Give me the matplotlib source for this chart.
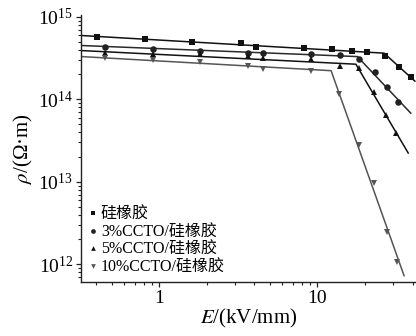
import matplotlib
matplotlib.use("Agg")
import matplotlib.pyplot as plt
from matplotlib.lines import Line2D
from matplotlib.ticker import LogLocator, LogFormatterMathtext, NullFormatter, FuncFormatter

plt.rcParams['font.family'] = ['Liberation Serif', 'Noto Sans CJK SC']
plt.rcParams['mathtext.fontset'] = 'stix'

# Measured resistivity (Ω·m) versus applied field E (kV/mm)
labels = ['硅橡胶', '3%CCTO/硅橡胶', '5%CCTO/硅橡胶', '10%CCTO/硅橡胶']

E_sr = [0.406, 0.817, 1.62, 3.28, 4.07, 8.17, 12.4, 16.5, 20.7, 26.8, 32.8, 38.8]
rho_sr = [5.66e14, 5.36e14, 5.01e14, 4.79e14, 4.35e14, 4.16e14, 4.05e14,
          3.86e14, 3.79e14, 3.38e14, 2.44e14, 1.85e14]

E_3 = [0.451, 0.913, 1.81, 3.64, 4.53, 9.12, 13.8, 18.4, 23.2, 27.7, 32.3]
rho_3 = [4.35e14, 4.08e14, 3.89e14, 3.61e14, 3.61e14, 3.55e14, 3.45e14,
         3.08e14, 2.12e14, 1.40e14, 9.33e13]

E_5 = [0.451, 0.913, 1.81, 3.64, 4.53, 9.12, 13.8, 18.2, 22.8, 27.0, 31.6]
rho_5 = [3.65e14, 3.55e14, 3.55e14, 3.36e14, 3.20e14, 3.08e14, 2.56e14,
         2.38e14, 1.23e14, 6.43e13, 3.92e13]

E_10 = [0.451, 0.913, 1.81, 3.64, 4.53, 9.12, 13.65, 18.2, 22.8, 27.4, 32.0]
rho_10 = [3.15e14, 3.00e14, 2.81e14, 2.54e14, 2.33e14, 2.22e14, 1.17e14,
          2.77e13, 9.66e12, 2.44e12, 1.08e12]

# Two-segment fitted trend lines (start, knee, end)
fitE_sr = [0.323, 26.4, 41.3]
fitrho_sr = [5.92e14, 3.62e14, 1.66e14]
fitE_3 = [0.323, 17.9, 38.9]
fitrho_3 = [4.48e14, 3.29e14, 6.79e13]
fitE_5 = [0.323, 17.5, 37.5]
fitrho_5 = [3.89e14, 2.66e14, 2.23e13]
fitE_10 = [0.323, 12.2, 35.3]
fitrho_10 = [3.29e14, 2.22e14, 7.27e11]

series = [
    (E_sr, rho_sr, fitE_sr, fitrho_sr, 's', '#111111', '#111111', 4.4),
    (E_3, rho_3, fitE_3, fitrho_3, 'o', '#222222', '#2a2a2a', 4.7),
    (E_5, rho_5, fitE_5, fitrho_5, '^', '#111111', '#111111', 5.0),
    (E_10, rho_10, fitE_10, fitrho_10, 'v', '#555555', '#555555', 5.0),
]

fig = plt.figure(figsize=(4.16, 3.36), dpi=100)
ax = fig.add_axes([81 / 416, 1 - 282 / 336, 1 - 81 / 416, (282 - 15) / 336])

handles = []
for (E, rho, fE, frho, mk, mcol, lcol, ms), lab in zip(series, labels):
    ax.plot(fE, frho, '-', color=lcol, lw=1.1, zorder=2)
    ax.plot(E, rho, linestyle='none', marker=mk, ms=ms, color=mcol,
            markeredgewidth=0, zorder=3)
    handles.append(Line2D([], [], linestyle='none', marker=mk, ms=3.4,
                          color=mcol, markeredgewidth=0, label=lab))

ax.set_xscale('log')
ax.set_yscale('log')
ax.set_xlim(0.32, 42)
ax.set_ylim(6.1e11, 1.05e15)

ax.yaxis.set_major_locator(LogLocator(base=10, numticks=10))
ax.yaxis.set_minor_locator(LogLocator(base=10, subs=range(2, 10), numticks=20))
ax.yaxis.set_major_formatter(LogFormatterMathtext())
ax.yaxis.set_minor_formatter(NullFormatter())
ax.xaxis.set_major_locator(LogLocator(base=10, numticks=10))
ax.xaxis.set_minor_locator(LogLocator(base=10, subs=range(2, 10), numticks=20))
ax.xaxis.set_major_formatter(FuncFormatter(lambda v, p: f'{v:g}'))
ax.xaxis.set_minor_formatter(NullFormatter())

for s in ('top', 'right'):
    ax.spines[s].set_visible(False)
for s in ('left', 'bottom'):
    ax.spines[s].set_linewidth(1.0)
    ax.spines[s].set_color('#222222')

ax.tick_params(which='major', direction='out', length=3.6, width=0.9,
               labelsize=14, pad=2, colors='#222222', labelcolor='black')
ax.tick_params(which='minor', direction='out', length=2.0, width=0.8,
               colors='#222222')

ax.set_xlabel(r'$E$/(kV/mm)', fontsize=15, labelpad=0)
ax.set_ylabel(r'$\rho$/(Ω·m)', fontsize=15, labelpad=2)

leg = ax.legend(handles=handles, loc='lower left', bbox_to_anchor=(-0.012, -0.018),
                frameon=False, fontsize=11.5, handlelength=0.6,
                handletextpad=0.2, labelspacing=0.1, borderaxespad=0.3)

fig.savefig('out.png', dpi=100)
